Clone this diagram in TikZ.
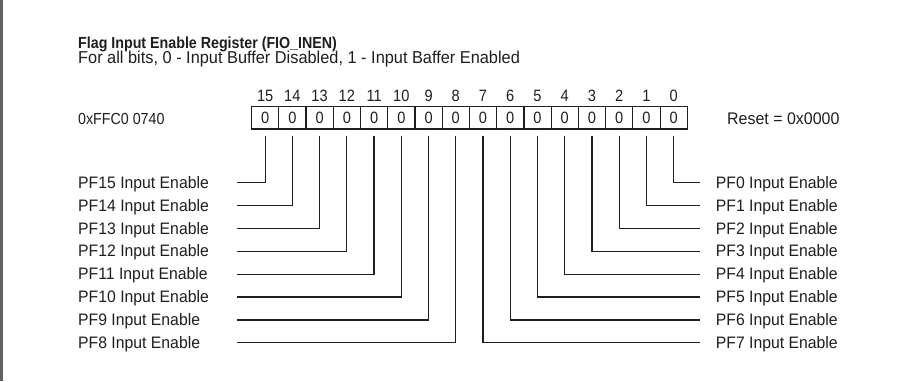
\documentclass[tikz,border=0pt]{standalone}
\usepackage{fontspec}
\setmainfont{Liberation Sans}
\newfontfamily\narrowsans[FakeStretch=0.89]{Liberation Sans}
\newfontfamily\labelsans[FakeStretch=0.95]{Liberation Sans}
\definecolor{ink}{HTML}{1E1E1E}
\definecolor{rule}{HTML}{606060}
\begin{document}
\begin{tikzpicture}[x=1pt,y=-1pt,
  txt/.style={inner sep=0pt, anchor=base west, text=ink},
  lbl/.style={txt, font=\labelsans\fontsize{16.6}{19}\selectfont},
  bitno/.style={inner sep=0pt, anchor=base, text=ink, font=\narrowsans\fontsize{16.4}{18}\selectfont},
  cell/.style={draw=ink, line width=1.2pt, minimum width=27.24pt, minimum height=22.5pt,
               inner sep=0pt, text=ink, font=\narrowsans\fontsize{16.4}{18}\selectfont},
  wire/.style={draw=ink, line width=1.2pt}]
\useasboundingbox (0,0) rectangle (908,381);

% left margin rule
\draw[rule, line width=2.6pt] (1.3,0) -- (1.3,381);

% heading
\node[txt, font=\narrowsans\bfseries\fontsize{16}{19}\selectfont] (title) at (78,48.3)
  {Flag Input Enable Register (FIO\_INEN)};
\node[txt, font=\labelsans\fontsize{17.2}{20}\selectfont] (sub) at (78,63.6)
  {For all bits, 0 - Input Buffer Disabled, 1 - Input Baffer Enabled};

% address and reset value
\node[txt, font=\narrowsans\fontsize{16}{19}\selectfont] (addr) at (78,124.5) {0xFFC0 0740};
\node[txt, font=\labelsans\fontsize{16.8}{19}\selectfont] (reset) at (727,124.5) {Reset = 0x0000};

% register cells with bit numbers
\foreach \i in {0,...,15}{
  \pgfmathsetmacro{\cx}{251.5+(15-\i+0.5)*27.24}
  \node[cell] (c\i) at (\cx,117.8) {0};
  \node[bitno] (n\i) at (\cx,101.7) {\i};
}

% bits 15..8: labels on the left
\foreach \i in {8,...,15}{
  \pgfmathsetmacro{\ry}{182.8+22.85*(15-\i)}
  \coordinate (e\i) at (237,\ry);
  \node[lbl] (l\i) at (78,\ry+5.5) {PF\i\ Input Enable};
  \draw[wire] ([yshift=-6pt]c\i.south) |- (e\i);
}

% bits 0..7: labels on the right
\foreach \i in {0,...,7}{
  \pgfmathsetmacro{\ry}{182.8+22.85*\i}
  \coordinate (e\i) at (700,\ry);
  \node[lbl] (l\i) at (715.7,\ry+5.5) {PF\i\ Input Enable};
  \draw[wire] ([yshift=-6pt]c\i.south) |- (e\i);
}
\end{tikzpicture}
\end{document}
